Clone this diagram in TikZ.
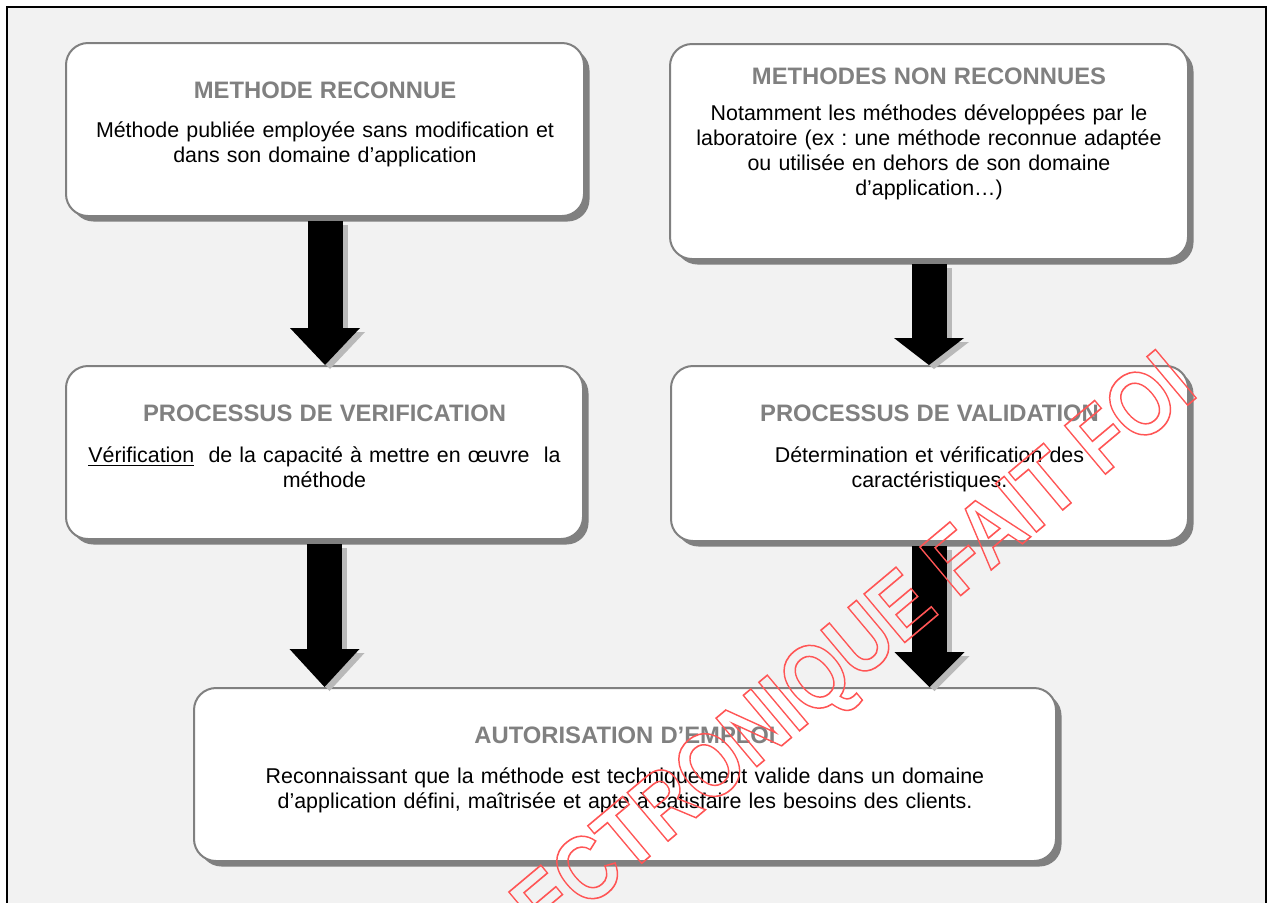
\documentclass[tikz,border=0pt]{standalone}
\usepackage{fontspec}
\setmainfont{Liberation Sans}
\usepackage{xcolor}
\usepackage{graphicx}
\usepackage{tikz}
\usetikzlibrary{positioning, arrows.meta, shadows}
\frenchspacing

\definecolor{fond}{RGB}{242,242,242}
\definecolor{grisbord}{RGB}{128,128,128}
\definecolor{grisombre}{RGB}{185,185,185}
\definecolor{rougefil}{RGB}{255,85,85}

\newcommand{\titre}[1]{{\fontsize{11.9}{12}\selectfont\bfseries\color{grisbord}#1}}
\newcommand{\traitcontour}[1]{\special{pdf:literal direct 1 Tr 0.8 w}#1\special{pdf:literal direct 0 Tr}}

\tikzset{
  etape/.style={draw=grisbord, line width=1pt, fill=white, rounded corners=11pt,
    anchor=north west, inner sep=0pt, align=center, text height=27.5pt, text depth=59pt,
    font=\fontsize{10.7}{12.5}\selectfont,
    drop shadow={shadow xshift=2.75pt, shadow yshift=-2.75pt, opacity=1, fill=grisbord}},
  fleche/.style={line width=17.5pt, shorten <=2pt, -{Triangle[width=35pt, length=#1, line width=0pt]}},
  ombre/.style={fleche=#1, grisombre, transform canvas={xshift=2.5pt, yshift=-2pt}}
}

\begin{document}
\begin{tikzpicture}[x=0.5pt, y=-0.5pt]
  \useasboundingbox (0,0) rectangle (1269,902);
  \clip (0,0) rectangle (1269,902);
  \draw[line width=1pt, fill=fond] (7,7) rectangle (1266,920);

  \node[etape, text width=259pt] (reconnue) at (65,42)
    {\titre{METHODE RECONNUE}\\[7pt]
     Méthode publiée employée sans modification et\\dans son domaine d’application};
  \node[etape, text width=259pt, text height=20pt, text depth=87.5pt] (nonreconnue) at (669,43)
    {\titre{METHODES NON RECONNUES}\\[5.5pt]
     Notamment les méthodes développées par le\\laboratoire (ex : une méthode reconnue adaptée\\
     ou utilisée en dehors de son domaine\\d’application…)};
  \node[etape, text width=258.5pt] (verif) at (65,365)
    {\titre{PROCESSUS DE VERIFICATION}\\[8pt]
     \underline{Vérification}\ \ de la capacité à mettre en œuvre\ \ la\\méthode};
  \node[etape, text width=258.5pt, text depth=60pt] (valid) at (670,365)
    {\titre{PROCESSUS DE VALIDATION}\\[8pt]
     Détermination et vérification des\\caractéristiques.};
  \node[etape, text width=431pt] (autor) at (193,687)
    {\titre{AUTORISATION D’EMPLOI}\\[7.5pt]
     Reconnaissant que la méthode est techniquement valide dans un domaine\\
     d’application défini, maîtrisée et apte à satisfaire les besoins des clients.};

  \draw[ombre=18.5pt] (reconnue.south) -- (reconnue.south |- verif.north);
  \draw[fleche=18.5pt] (reconnue.south) -- (reconnue.south |- verif.north);
  \draw[ombre=13.5pt] (nonreconnue.south) -- (nonreconnue.south |- valid.north);
  \draw[fleche=13.5pt] (nonreconnue.south) -- (nonreconnue.south |- valid.north);
  \draw[ombre=19pt] (verif.south) -- (verif.south |- autor.north);
  \draw[fleche=19pt] (verif.south) -- (verif.south |- autor.north);
  \draw[ombre=17.5pt] (valid.south) -- (valid.south |- autor.north);
  \draw[fleche=17.5pt] (valid.south) -- (valid.south |- autor.north);

  \node[text=rougefil, font=\fontsize{46}{46}\selectfont\bfseries, rotate=40, inner sep=0pt,
    anchor=base] (filigrane) at (835,701)
    {\scalebox{0.84}[1]{\traitcontour{ELECTRONIQUE FAIT FOI}}};
\end{tikzpicture}
\end{document}
